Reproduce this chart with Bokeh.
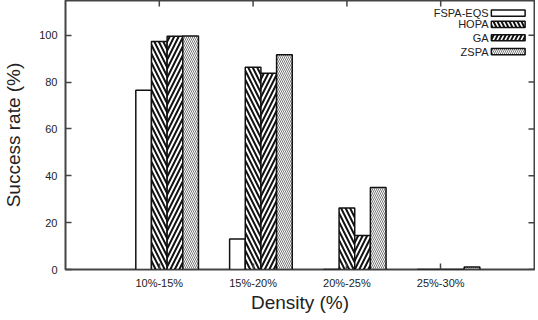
from bokeh.plotting import figure
from bokeh.models import ColumnDataSource, Range1d, FixedTicker, BoxAnnotation, Label
from bokeh.transform import dodge
from bokeh.embed import file_html
from bokeh.resources import INLINE

categories = ["10%-15%", "15%-20%", "20%-25%", "25%-30%"]
positions = [1, 2, 3, 4]
fspa_eqs = [76.5, 13.0, 0.0, 0.0]
hopa = [97.3, 86.3, 26.2, 0.0]
ga = [99.5, 83.7, 14.5, 0.0]
zspa = [99.7, 91.6, 35.0, 1.1]
series_names = ["FSPA-EQS", "HOPA", "GA", "ZSPA"]
y_ticks = [0, 20, 40, 60, 80, 100]

src = ColumnDataSource(dict(x=positions, fspa=fspa_eqs, hopa=hopa, ga=ga, zspa=zspa))

FONT = "Liberation Sans"
XMAX, YMAX = 5.0, 114.8
FW, FH = 469, 269
p = figure(width=529, height=309, output_backend="svg", toolbar_location=None,
           x_range=Range1d(0, XMAX), y_range=Range1d(0, YMAX),
           min_border_left=59, min_border_right=1, min_border_top=0, min_border_bottom=38)
p.frame_width = FW
p.frame_height = FH
p.grid.visible = False
p.outline_line_color = "#444444"
p.outline_line_width = 2
p.background_fill_color = "white"

bw = 0.167
styles = [
    ("fspa", -0.167, None, 9, 1, "#111111"),
    ("hopa", 0.0, "left_diagonal_line", 9, 2, "#111111"),
    ("ga", 0.167, "right_diagonal_line", 9, 2, "#111111"),
    ("zspa", 0.334, "left_diagonal_line", 4, 0.8, "#555555"),
]
for col, off, hatch, scale, weight, hc in styles:
    kw = dict(x=dodge("x", off, range=p.x_range), top=col, width=bw, source=src,
              fill_color="white", line_color="#111111", line_width=1.5)
    if hatch:
        kw.update(hatch_pattern=hatch, hatch_scale=scale, hatch_weight=weight, hatch_color=hc)
    p.vbar(**kw)

# inward ticks on right and top edges
tick_dx = 6 * XMAX / FW
tick_dy = 6 * YMAX / FH
p.segment(x0=[XMAX] * len(y_ticks), x1=[XMAX - tick_dx] * len(y_ticks), y0=y_ticks, y1=y_ticks,
          line_color="#444444", line_width=1.5)
p.segment(x0=positions, x1=positions, y0=[YMAX] * 4, y1=[YMAX - tick_dy] * 4,
          line_color="#444444", line_width=1.5)

# axes
p.xaxis.ticker = FixedTicker(ticks=positions)
p.xaxis.major_label_overrides = {pos: c for pos, c in zip(positions, categories)}
p.yaxis.ticker = FixedTicker(ticks=y_ticks)
for ax in (p.xaxis[0], p.yaxis[0]):
    ax.axis_line_color = None
    ax.major_tick_in = 6
    ax.major_tick_out = 0
    ax.minor_tick_line_color = None
    ax.major_tick_line_color = "#444444"
    ax.major_tick_line_width = 1.5
    ax.major_label_text_font = FONT
    ax.major_label_text_font_size = "11px"
    ax.major_label_text_color = "#222222"
    ax.axis_label_text_font = FONT
    ax.axis_label_text_font_size = "19px"
    ax.axis_label_text_font_style = "normal"
    ax.axis_label_text_color = "#222222"
p.xaxis.axis_label = "Density (%)"
p.yaxis.axis_label = "Success rate (%)"
p.xaxis.major_label_standoff = 7
p.xaxis.axis_label_standoff = 0
p.yaxis.major_label_standoff = 8
p.yaxis.axis_label_standoff = 12

# legend (text left, swatch right)
leg_y = [109.4, 104.6, 98.9, 93.0]
leg_hatch = [(None, 8, 1, "#111111"), ("left_diagonal_line", 8, 2, "#111111"),
             ("right_diagonal_line", 8, 2, "#111111"), ("left_diagonal_line", 4, 0.8, "#555555")]
for name, yy, (h, s, w, hc) in zip(series_names, leg_y, leg_hatch):
    kw = dict(left=4.54, right=4.90, bottom=yy - 1.3, top=yy + 1.3,
              fill_color="white", fill_alpha=1, line_color="#111111", line_width=1.5, line_alpha=1)
    if h:
        kw.update(hatch_pattern=h, hatch_scale=s, hatch_weight=w, hatch_color=hc, hatch_alpha=1)
    p.add_layout(BoxAnnotation(**kw))
    p.add_layout(Label(x=4.51, y=yy, text=name, text_align="right", text_baseline="middle",
                       text_font=FONT, text_font_size="11px", text_color="#222222"))

open("out.html", "w").write(file_html(p, INLINE))
